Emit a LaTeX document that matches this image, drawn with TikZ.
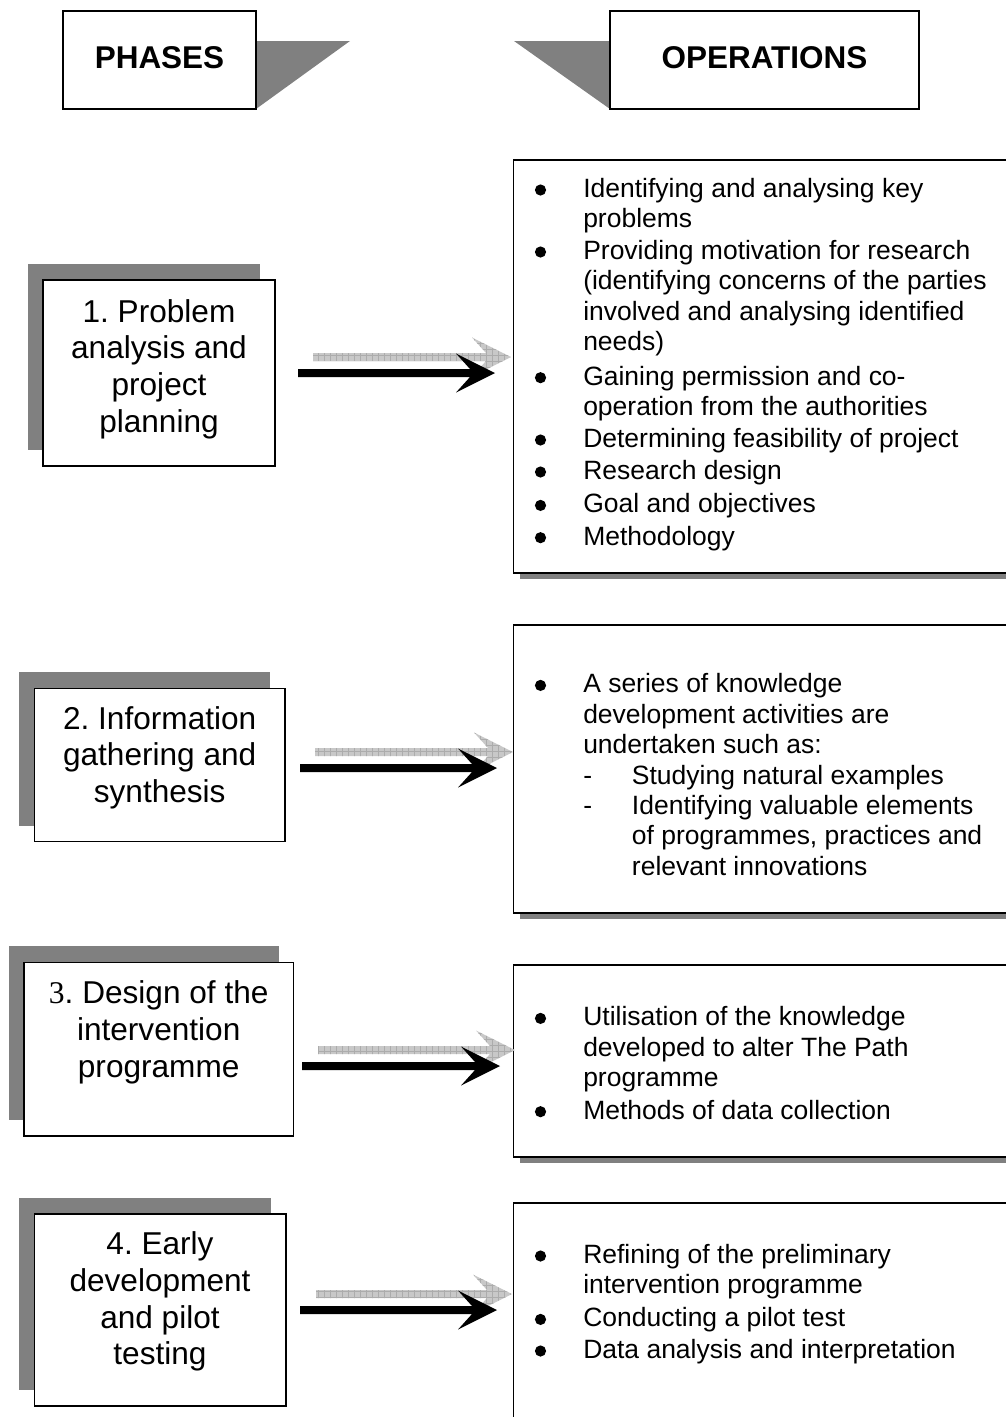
\documentclass[tikz,border=0pt]{standalone}
\usepackage{fontspec}
\setmainfont{Liberation Sans}[Ligatures={NoCommon}]
\newfontfamily\serifthree{Liberation Serif}
\usetikzlibrary{calc,fit,patterns.meta}
\definecolor{shadegray}{RGB}{128,128,128}
\definecolor{arrowgray}{RGB}{200,200,200}
\frenchspacing
\newcommand{\fatarrow}[3]{%
  \fill[#1] ($(#2)+(0,-4)$) -- ($(#3)+(-25,-4)$) -- ($(#3)+(-39,-19.5)$) -- (#3)
    -- ($(#3)+(-39,19.5)$) -- ($(#3)+(-25,4)$) -- ($(#2)+(0,4)$) -- cycle;}
\begin{document}
\begin{tikzpicture}[x=0.75pt,y=-0.75pt,
  frame/.style={draw=black, line width=1.1pt, fill=white, inner sep=0pt},
  phasebox/.style={frame, preaction={fill=shadegray, transform canvas={shift={(-11.25pt,12pt)}}}},
  opbox/.style={frame, preaction={fill=shadegray, transform canvas={shift={(4.5pt,-4.5pt)}}}},
  headtext/.style={font=\fontsize{23.6}{27}\selectfont\bfseries, anchor=base, inner sep=0pt},
  phasetext/.style={font=\fontsize{23.7}{27.5}\selectfont, align=center, anchor=north, inner sep=0pt},
  itemtext/.style={font=\fontsize{19.86}{22.8}\selectfont, align=left, anchor=north west, inner sep=0pt},
  dashtext/.style={font=\fontsize{19.86}{22.8}\selectfont, anchor=base west, inner sep=0pt},
  bul/.style={circle, fill=black, inner sep=0pt, minimum size=8.4pt},
  blackarrow/.style={fill=black},
  grayarrow/.style={fill=arrowgray, postaction={pattern={Hatch[angle=0,distance=4.5pt,line width=0.45pt]}, pattern color=gray!65}},
]
\useasboundingbox (0,0) rectangle (1006,1417);
\clip (0,0) rectangle (1006,1417);

% header
\fill[shadegray] (256,41) -- (350,41) -- (256,109) -- cycle;
\fill[shadegray] (514,41) -- (610,41) -- (610,109) -- cycle;
\node[frame, fit={(63,11) (256,109)}] (phases) {};
\node[headtext] (phasest) at (159.5,68.5) {PHASES};
\node[frame, fit={(610,11) (919,109)}] (operations) {};
\node[headtext] (operationst) at (764.5,68.5) {OPERATIONS};

% phase boxes
\node[phasebox, fit={(43,280) (275,466)}] (p1) {};
\node[phasetext] (p1t) at (159,296.3) {\strut 1. Problem\\analysis and\\project\\planning};
\node[phasebox, fit={(34.3,688.3) (285,841.5)}] (p2) {};
\node[phasetext] (p2t) at (159.7,703.3) {\strut 2. Information\\gathering and\\synthesis};
\node[phasebox, fit={(24,962.3) (293.5,1136)}] (p3) {};
\node[phasetext] (p3t) at (158.7,977.8) {\strut {\serifthree 3}. Design of the\\intervention\\programme};
\node[phasebox, fit={(34.3,1214) (286,1406)}] (p4) {};
\node[phasetext] (p4t) at (160,1229) {\strut 4. Early\\development\\and pilot\\testing};

% operation boxes
\node[opbox, fit={(513.5,160) (1030,573)}] (o1) {};
\node[opbox, fit={(513.5,625) (1030,913)}] (o2) {};
\node[opbox, fit={(513.5,965) (1030,1157)}] (o3) {};
\node[opbox, fit={(513.5,1203) (1030,1450)}] (o4) {};

% box 1 items
\node[bul] (b11) at (540.5,190) {};
\node[itemtext] (i11) at (583,176.0) {\strut Identifying and analysing key\\problems};
\node[bul] (b12) at (540.5,252) {};
\node[itemtext] (i12) at (583,238.0) {\strut Providing motivation for research\\(identifying concerns of the parties\\involved and analysing identified\\needs)};
\node[bul] (b13) at (540.5,377.7) {};
\node[itemtext] (i13) at (583,363.7) {\strut Gaining permission and co-\\operation from the authorities};
\node[bul] (b14) at (540.5,440) {};
\node[itemtext] (i14) at (583,426) {\strut Determining feasibility of project};
\node[bul] (b15) at (540.5,472) {};
\node[itemtext] (i15) at (583,458) {\strut Research design};
\node[bul] (b16) at (540.5,505.4) {};
\node[itemtext] (i16) at (583,491.4) {\strut Goal and objectives};
\node[bul] (b17) at (540.5,537.7) {};
\node[itemtext] (i17) at (583,523.7) {\strut Methodology};

% box 2 items
\node[bul] (b21) at (540.5,685.4) {};
\node[itemtext] (i21) at (583,671.4) {\strut A series of knowledge\\development activities are\\undertaken such as:};
\node[dashtext] (d21) at (583,784) {-};
\node[itemtext] (i22) at (631.7,762.7) {\strut Studying natural examples};
\node[dashtext] (d22) at (583,814) {-};
\node[itemtext] (i23) at (631.7,792.7) {\strut Identifying valuable elements\\of programmes, practices and\\relevant innovations};

% box 3 items
\node[bul] (b31) at (540.5,1018.4) {};
\node[itemtext] (i31) at (583,1004.4) {\strut Utilisation of the knowledge\\developed to alter The Path\\programme};
\node[bul] (b32) at (540.5,1111.7) {};
\node[itemtext] (i32) at (583,1097.7) {\strut Methods of data collection};

% box 4 items
\node[bul] (b41) at (540.5,1256) {};
\node[itemtext] (i41) at (583,1242) {\strut Refining of the preliminary\\intervention programme};
\node[bul] (b42) at (540.5,1319.4) {};
\node[itemtext] (i42) at (583,1305.4) {\strut Conducting a pilot test};
\node[bul] (b43) at (540.5,1351) {};
\node[itemtext] (i43) at (583,1337) {\strut Data analysis and interpretation};

% arrows
\coordinate (g1s) at (313,357); \coordinate (g1t) at (511,357);
\coordinate (k1s) at (298,373); \coordinate (k1t) at (495,373);
\coordinate (g2s) at (315,752); \coordinate (g2t) at (513,752);
\coordinate (k2s) at (300,768); \coordinate (k2t) at (497,768);
\coordinate (g3s) at (318,1050); \coordinate (g3t) at (515,1050);
\coordinate (k3s) at (302,1066); \coordinate (k3t) at (500,1066);
\coordinate (g4s) at (316,1294); \coordinate (g4t) at (512,1294);
\coordinate (k4s) at (300,1310); \coordinate (k4t) at (497,1310);
\fatarrow{grayarrow}{g1s}{g1t}
\fatarrow{blackarrow}{k1s}{k1t}
\fatarrow{grayarrow}{g2s}{g2t}
\fatarrow{blackarrow}{k2s}{k2t}
\fatarrow{grayarrow}{g3s}{g3t}
\fatarrow{blackarrow}{k3s}{k3t}
\fatarrow{grayarrow}{g4s}{g4t}
\fatarrow{blackarrow}{k4s}{k4t}
\end{tikzpicture}
\end{document}
